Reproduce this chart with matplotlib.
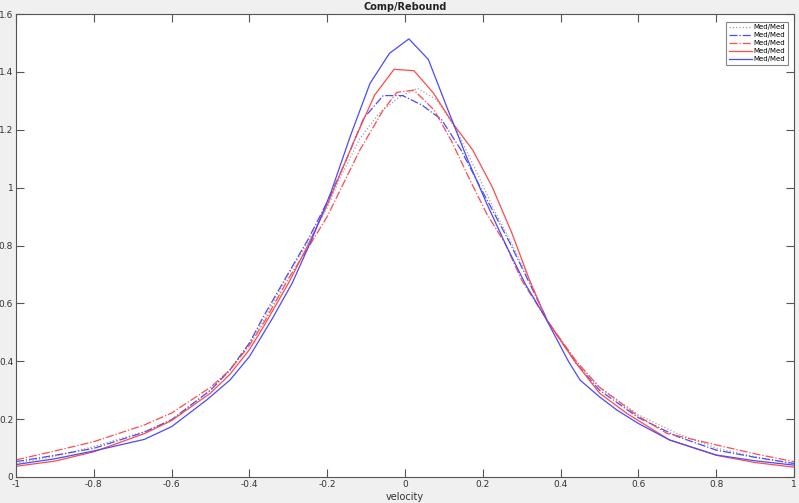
import numpy as np
import matplotlib
matplotlib.use('Agg')
import matplotlib.pyplot as plt
from matplotlib.ticker import FuncFormatter, MultipleLocator

# Curves (velocity, force) - each series has its own samples
v_gray = [-1.0, -0.9, -0.8, -0.67, -0.6, -0.5, -0.45, -0.4, -0.36, -0.3, -0.25, -0.2,
          -0.168, -0.118, -0.068, -0.018, 0.032, 0.082, 0.132, 0.182, 0.232, 0.274,
          0.32, 0.368, 0.44, 0.5, 0.6, 0.7, 0.8, 0.9, 1.0]
f_gray = [0.047, 0.072, 0.105, 0.157, 0.197, 0.30, 0.37, 0.463, 0.55, 0.70, 0.81, 0.93,
          1.03, 1.165, 1.255, 1.31, 1.343, 1.303, 1.20, 1.06, 0.915, 0.808,
          0.68, 0.536, 0.40, 0.31, 0.215, 0.15, 0.10, 0.07, 0.045]

v_bdash = [-1.0, -0.9, -0.8, -0.67, -0.6, -0.5, -0.45, -0.4, -0.364, -0.3, -0.25, -0.2,
           -0.156, -0.106, -0.056, -0.006, 0.044, 0.094, 0.144, 0.194, 0.27, 0.32,
           0.368, 0.44, 0.5, 0.6, 0.7, 0.8, 0.9, 1.0]
f_bdash = [0.053, 0.075, 0.099, 0.155, 0.198, 0.30, 0.37, 0.463, 0.554, 0.704, 0.819, 0.95,
           1.08, 1.24, 1.318, 1.318, 1.285, 1.235, 1.13, 1.00, 0.808, 0.67,
           0.536, 0.393, 0.30, 0.205, 0.14, 0.093, 0.068, 0.047]

v_rdash = [-1.0, -0.9, -0.8, -0.67, -0.6, -0.5, -0.45, -0.4, -0.36, -0.3, -0.25, -0.2,
           -0.154, -0.116, -0.056, -0.021, 0.023, 0.075, 0.12, 0.167, 0.21, 0.257,
           0.3, 0.368, 0.44, 0.5, 0.6, 0.673, 0.8, 0.9, 1.0]
f_rdash = [0.059, 0.09, 0.122, 0.18, 0.221, 0.31, 0.37, 0.455, 0.54, 0.685, 0.79, 0.90,
           1.026, 1.13, 1.268, 1.329, 1.337, 1.268, 1.16, 1.026, 0.91, 0.808,
           0.68, 0.536, 0.40, 0.31, 0.21, 0.151, 0.111, 0.08, 0.053]

v_rsolid = [-1.0, -0.9, -0.8, -0.67, -0.6, -0.5, -0.45, -0.4, -0.364, -0.3, -0.25, -0.2,
            -0.15, -0.128, -0.078, -0.028, 0.023, 0.073, 0.123, 0.174, 0.224, 0.275,
            0.32, 0.364, 0.44, 0.5, 0.57, 0.68, 0.8, 0.9, 1.0]
f_rsolid = [0.037, 0.055, 0.087, 0.15, 0.195, 0.29, 0.355, 0.44, 0.519, 0.669, 0.80, 0.94,
            1.10, 1.17, 1.32, 1.409, 1.404, 1.327, 1.222, 1.13, 1.003, 0.842,
            0.681, 0.543, 0.393, 0.29, 0.22, 0.128, 0.075, 0.05, 0.034]

v_bsolid = [-1.0, -0.9, -0.8, -0.67, -0.6, -0.51, -0.45, -0.4, -0.34, -0.29, -0.24,
            -0.19, -0.14, -0.09, -0.04, 0.01, 0.06, 0.11, 0.16, 0.21, 0.26, 0.31,
            0.36, 0.42, 0.45, 0.5, 0.544, 0.6, 0.68, 0.8, 0.9, 1.0]
f_bsolid = [0.043, 0.063, 0.09, 0.13, 0.174, 0.266, 0.335, 0.416, 0.55, 0.67, 0.82,
            0.985, 1.18, 1.36, 1.464, 1.514, 1.443, 1.27, 1.10, 0.945, 0.80, 0.665,
            0.553, 0.40, 0.335, 0.277, 0.232, 0.185, 0.128, 0.076, 0.056, 0.041]

labels = ['Med/Med'] * 5

fig = plt.figure(figsize=(7.99, 5.03), dpi=100, facecolor='#f0f0f0')
ax = fig.add_axes([16 / 799, 26 / 503, 778 / 799, 463 / 503])

blue = '#4a4aff'
red = '#ff4a4a'
lw = 0.9
ax.plot(v_gray, f_gray, ':', color='#a0a0a0', lw=lw, label=labels[0])
ax.plot(v_bdash, f_bdash, '-.', color=blue, lw=lw, label=labels[1])
ax.plot(v_rdash, f_rdash, '-.', color=red, lw=lw, label=labels[2])
ax.plot(v_rsolid, f_rsolid, '-', color=red, lw=lw, label=labels[3])
ax.plot(v_bsolid, f_bsolid, '-', color=blue, lw=lw, label=labels[4])

ax.set_xlim(-1, 1)
ax.set_ylim(0, 1.6)
fmt = FuncFormatter(lambda x, pos: '%g' % round(x, 6) if abs(x) > 1e-9 else '0')
ax.xaxis.set_major_locator(MultipleLocator(0.2))
ax.yaxis.set_major_locator(MultipleLocator(0.2))
ax.xaxis.set_major_formatter(fmt)
ax.yaxis.set_major_formatter(fmt)
ax.tick_params(direction='in', length=6, width=0.8, color='#555555',
               labelsize=6.5, labelcolor='#333333', top=True, right=True, pad=2)
for s in ax.spines.values():
    s.set_color('#555555')
    s.set_linewidth(0.8)

ax.set_title('Comp/Rebound', fontsize=7, fontweight='bold', color='#222222', pad=3)
ax.set_xlabel('velocity', fontsize=7, color='#333333', labelpad=2)

leg = ax.legend(loc='upper right', fontsize=5, frameon=True, fancybox=False,
                edgecolor='#666666', handlelength=3.4, borderpad=0.35,
                labelspacing=0.28, handletextpad=0.2, borderaxespad=0,
                bbox_to_anchor=(0.992, 0.983))
leg.get_frame().set_linewidth(0.8)

fig.savefig('out.png', dpi=100, facecolor=fig.get_facecolor())
